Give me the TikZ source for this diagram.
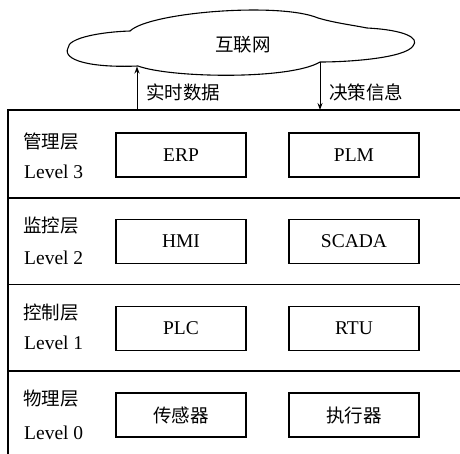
\documentclass[tikz,border=0pt]{standalone}
\usepackage{fontspec}
\setmainfont{Liberation Serif}
\newfontfamily\cjk{Noto Sans CJK SC}
\usetikzlibrary{arrows.meta}
\tikzset{
  fnt/.style={font=\fontsize{19.5}{22}\selectfont},
  cfnt/.style={font=\fontsize{18.5}{22}\selectfont\cjk},
  devbox/.style={draw, line width=1.3pt, minimum width=130pt, minimum height=44pt, inner sep=0pt, fnt},
  cdevbox/.style={devbox, font=\fontsize{18.5}{22}\selectfont\cjk},
  sep/.style={line width=1.3pt},
  flow/.style={line width=1pt, -{Stealth[length=7pt,width=5pt]}},
  lname/.style={anchor=west, inner sep=0pt, cfnt},
  lnum/.style={anchor=west, inner sep=0pt, fnt},
}
\begin{document}
\begin{tikzpicture}[x=1pt,y=-1pt]
\useasboundingbox (0,0) rectangle (460,454);
\clip (0,0) rectangle (460,454);
% cloud
\draw[line width=1.1pt, fill=white] (68,48) .. controls (68,38) and (100,32) .. (130,31)
  .. controls (150,12) and (280,2) .. (318,18)
  .. controls (335,23) and (352,25) .. (367,28)
  .. controls (405,30) and (420,38) .. (413,46)
  .. controls (405,58) and (350,62) .. (320,62)
  .. controls (290,80) and (170,78) .. (138,66)
  .. controls (90,68) and (62,60) .. (68,48) -- cycle;
\node[cfnt] (net) at (243,45) {互联网};
\coordinate (cup) at (137,66.5);
\coordinate (cdown) at (320,62);
% frame
\coordinate (t0) at (8,110);
\coordinate (t1) at (8,198);
\coordinate (t2) at (8,284.5);
\coordinate (t3) at (8,371);
\coordinate (bl) at (8,460);
\coordinate (r0) at (465,110);
\coordinate (r1) at (465,198);
\coordinate (r2) at (465,284.5);
\coordinate (r3) at (465,371);
\draw[sep] (r0) -- (t0) -- (bl);
\draw[sep] (t1) -- (r1);
\draw[sep] (t2) -- (r2);
\draw[sep] (t3) -- (r3);
\coordinate (fup) at (137,110);
\coordinate (fdown) at (320,110);
\draw[flow] (fup) -- (cup);
\draw[flow] (cdown) -- (fdown);
\node[cfnt, anchor=west, inner sep=0pt] (lblup) at (146,92) {实时数据};
\node[cfnt, anchor=west, inner sep=0pt] (lbldown) at (329,92) {决策信息};
% level labels
\node[lname] (n3) at (23,142) {管理层};
\node[lnum] (v3) at (24,172) {Level 3};
\node[lname] (n2) at (23,226) {监控层};
\node[lnum] (v2) at (24,258) {Level 2};
\node[lname] (n1) at (23,313) {控制层};
\node[lnum] (v1) at (24,343) {Level 1};
\node[lname] (n0) at (23,399) {物理层};
\node[lnum] (v0) at (24,433) {Level 0};
% devices
\node[devbox] (erp) at (181,155) {ERP};
\node[devbox] (plm) at (354,155) {PLM};
\node[devbox] (hmi) at (181,241.5) {HMI};
\node[devbox] (scada) at (354,241.5) {SCADA};
\node[devbox] (plc) at (181,328.5) {PLC};
\node[devbox] (rtu) at (354,328.5) {RTU};
\node[cdevbox] (sensor) at (181,415) {传感器};
\node[cdevbox] (actuator) at (354,415) {执行器};
\end{tikzpicture}
\end{document}
